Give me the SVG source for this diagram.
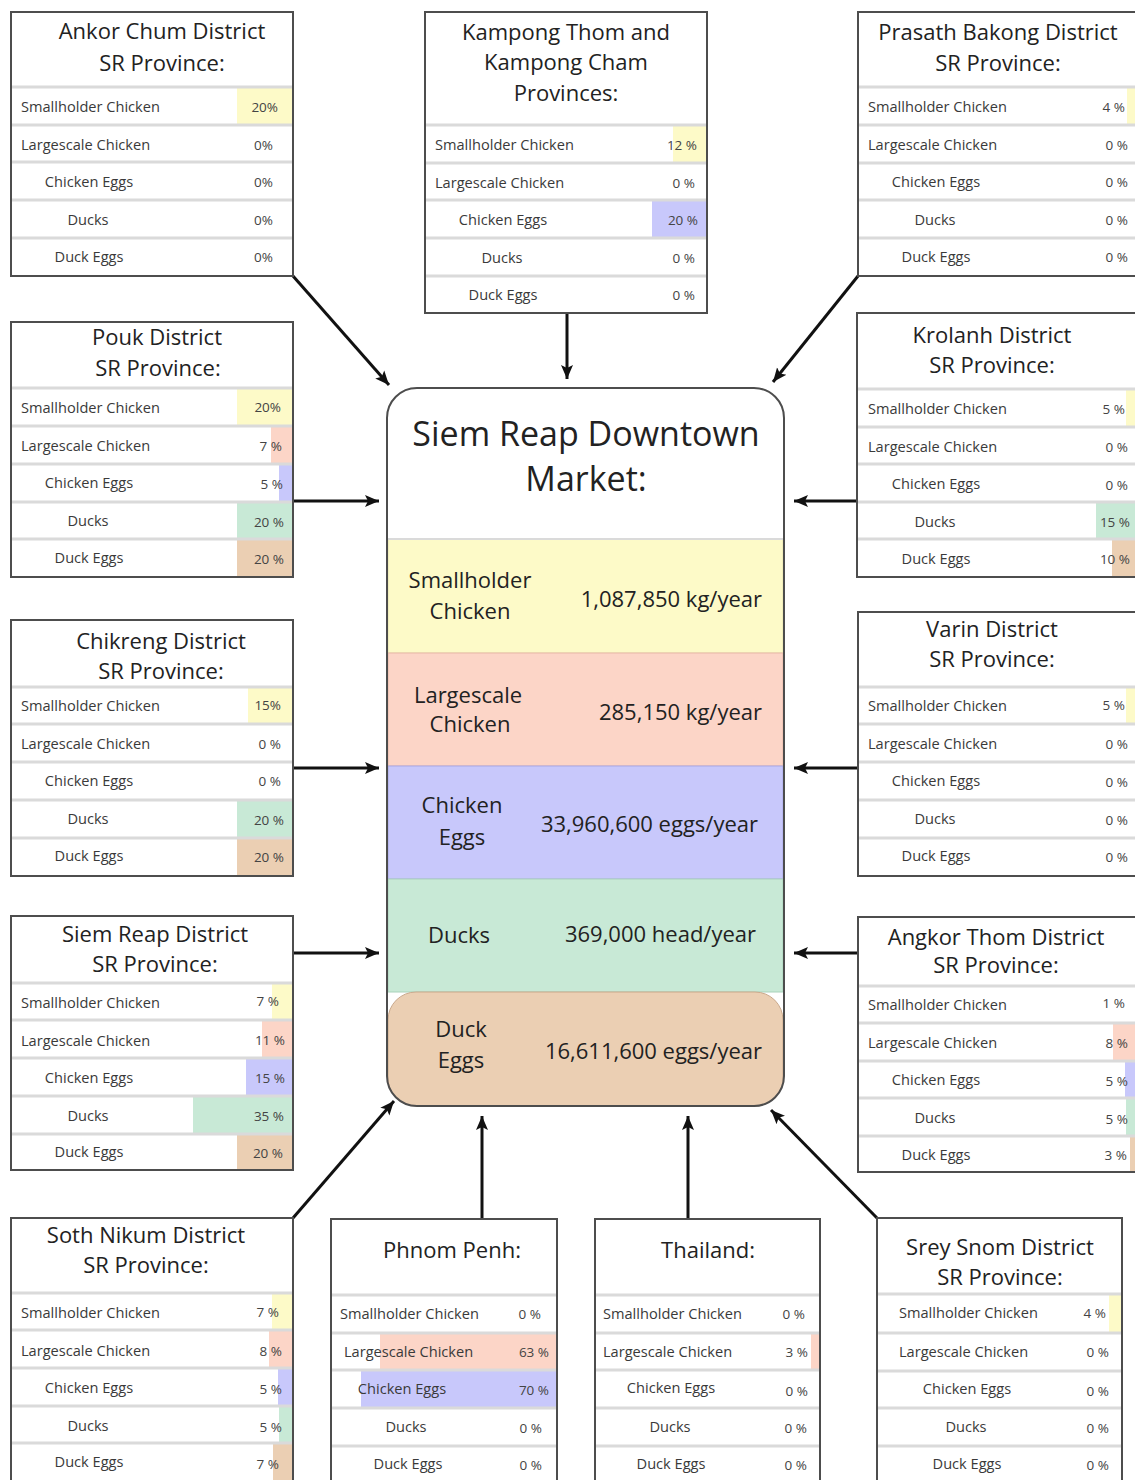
<svg xmlns="http://www.w3.org/2000/svg" width="1135" height="1480" viewBox="0 0 1135 1480">
<defs>
<marker id="ah" markerUnits="userSpaceOnUse" markerWidth="16" markerHeight="14" refX="14" refY="7" orient="auto">
<path d="M0,1 L14,7 L0,13 L3,7 z" fill="#111"/>
</marker>
<style>
.box{fill:#fff;stroke:#4d4d4d;stroke-width:2}
.sep{stroke:#dadada;stroke-width:3}
text{font-family:"Open Sans","Noto Sans","DejaVu Sans",sans-serif}
.t{font-size:22px;fill:#222;text-anchor:middle}
.l{font-size:14.6px;fill:#3a3a3a}
.m{text-anchor:middle}
.p{font-size:13.5px;fill:#444;text-anchor:end}
.y{fill:#fdfac8}.r{fill:#fcd5c7}.b{fill:#c8c8fb}.g{fill:#c8e9d6}.d{fill:#ebcfb3}
.mt{font-size:34px;fill:#222;text-anchor:middle}
.ml{font-size:22px;fill:#222;text-anchor:middle}
.mv{font-size:22px;fill:#222;text-anchor:end}
.c{stroke:#111;stroke-width:3;fill:none;marker-end:url(#ah)}
</style>
</defs>
<rect width="1135" height="1480" fill="#fff"/>

<g id="connectors">
<line class="c" x1="293" y1="276" x2="389" y2="385"/>
<line class="c" x1="567" y1="314" x2="567" y2="379"/>
<line class="c" x1="858" y1="276" x2="773" y2="382"/>
<line class="c" x1="293" y1="501" x2="379" y2="501"/>
<line class="c" x1="858" y1="501" x2="794" y2="501"/>
<line class="c" x1="293" y1="768" x2="379" y2="768"/>
<line class="c" x1="858" y1="768" x2="794" y2="768"/>
<line class="c" x1="293" y1="953" x2="379" y2="953"/>
<line class="c" x1="858" y1="953" x2="794" y2="953"/>
<line class="c" x1="293" y1="1218" x2="394" y2="1101"/>
<line class="c" x1="482" y1="1218" x2="482" y2="1116"/>
<line class="c" x1="688" y1="1218" x2="688" y2="1116"/>
<line class="c" x1="877" y1="1218" x2="771" y2="1110"/>
</g>

<g id="market">
<rect x="387" y="388" width="397" height="718" rx="30" fill="#fff"/>
<rect x="388" y="539" width="395" height="114" fill="#fdfac8" stroke="#e6e2b0" stroke-width="1"/>
<rect x="388" y="653" width="395" height="113" fill="#fcd5c7" stroke="#e8b8a8" stroke-width="1"/>
<rect x="388" y="766" width="395" height="113" fill="#c8c8fb" stroke="#a8a8e6" stroke-width="1"/>
<rect x="388" y="879" width="395" height="113" fill="#c8e9d6" stroke="#a9d2bb" stroke-width="1"/>
<rect x="388" y="992" width="395" height="114" rx="28" fill="#ebcfb3" stroke="#caa98c" stroke-width="1"/>
<line x1="388" y1="539" x2="783" y2="539" stroke="#dadada" stroke-width="2"/>
<rect x="387" y="388" width="397" height="718" rx="30" fill="none" stroke="#4d4d4d" stroke-width="2"/>
<text class="mt" x="586" y="446">Siem Reap Downtown</text>
<text class="mt" x="586" y="491">Market:</text>
<text class="ml" x="470" y="588">Smallholder</text>
<text class="ml" x="470" y="619">Chicken</text>
<text class="mv" x="762" y="607">1,087,850 kg/year</text>
<text class="ml" x="468" y="703">Largescale</text>
<text class="ml" x="470" y="732">Chicken</text>
<text class="mv" x="762" y="720">285,150 kg/year</text>
<text class="ml" x="462" y="813">Chicken</text>
<text class="ml" x="462" y="845">Eggs</text>
<text class="mv" x="758" y="832">33,960,600 eggs/year</text>
<text class="ml" x="459" y="943">Ducks</text>
<text class="mv" x="756" y="942">369,000 head/year</text>
<text class="ml" x="461" y="1037">Duck</text>
<text class="ml" x="461" y="1068">Eggs</text>
<text class="mv" x="762" y="1059">16,611,600 eggs/year</text>
</g>

<g id="ankor-chum">
<rect class="box" x="11" y="12" width="282" height="264"/>
<rect class="y" x="237" y="87" width="55" height="38"/>
<line class="sep" x1="12" y1="87" x2="292" y2="87"/><line class="sep" x1="12" y1="125" x2="292" y2="125"/><line class="sep" x1="12" y1="162" x2="292" y2="162"/><line class="sep" x1="12" y1="200" x2="292" y2="200"/><line class="sep" x1="12" y1="238" x2="292" y2="238"/>
<text class="t" x="162" y="39">Ankor Chum District</text>
<text class="t" x="162" y="71">SR Province:</text>
<text class="l" x="21" y="112">Smallholder Chicken</text>
<text class="l" x="21" y="150">Largescale Chicken</text>
<text class="l m" x="89" y="187">Chicken Eggs</text>
<text class="l m" x="88" y="225">Ducks</text>
<text class="l m" x="89" y="262">Duck Eggs</text>
<text class="p" x="278" y="112">20%</text>
<text class="p" x="273" y="150">0%</text>
<text class="p" x="273" y="187">0%</text>
<text class="p" x="273" y="225">0%</text>
<text class="p" x="273" y="262">0%</text>
</g>

<g id="kampong">
<rect class="box" x="425" y="12" width="282" height="301"/>
<rect class="y" x="673" y="125" width="33" height="38"/>
<rect class="b" x="652" y="200" width="54" height="38"/>
<line class="sep" x1="426" y1="125" x2="706" y2="125"/><line class="sep" x1="426" y1="163" x2="706" y2="163"/><line class="sep" x1="426" y1="200" x2="706" y2="200"/><line class="sep" x1="426" y1="238" x2="706" y2="238"/><line class="sep" x1="426" y1="276" x2="706" y2="276"/>
<text class="t" x="566" y="40">Kampong Thom and</text>
<text class="t" x="566" y="70">Kampong Cham</text>
<text class="t" x="566" y="101">Provinces:</text>
<text class="l" x="435" y="150">Smallholder Chicken</text>
<text class="l" x="435" y="188">Largescale Chicken</text>
<text class="l m" x="503" y="225">Chicken Eggs</text>
<text class="l m" x="502" y="263">Ducks</text>
<text class="l m" x="503" y="300">Duck Eggs</text>
<text class="p" x="697" y="150">12 %</text>
<text class="p" x="695" y="188">0 %</text>
<text class="p" x="698" y="225">20 %</text>
<text class="p" x="695" y="263">0 %</text>
<text class="p" x="695" y="300">0 %</text>
</g>

<g id="prasath-bakong">
<rect class="box" x="858" y="12" width="282" height="264"/>
<rect class="y" x="1127" y="87" width="12" height="38"/>
<line class="sep" x1="859" y1="87" x2="1139" y2="87"/><line class="sep" x1="859" y1="125" x2="1139" y2="125"/><line class="sep" x1="859" y1="163" x2="1139" y2="163"/><line class="sep" x1="859" y1="200" x2="1139" y2="200"/><line class="sep" x1="859" y1="238" x2="1139" y2="238"/>
<text class="t" x="998" y="40">Prasath Bakong District</text>
<text class="t" x="998" y="71">SR Province:</text>
<text class="l" x="868" y="112">Smallholder Chicken</text>
<text class="l" x="868" y="150">Largescale Chicken</text>
<text class="l m" x="936" y="187">Chicken Eggs</text>
<text class="l m" x="935" y="225">Ducks</text>
<text class="l m" x="936" y="262">Duck Eggs</text>
<text class="p" x="1125" y="112">4 %</text>
<text class="p" x="1128" y="150">0 %</text>
<text class="p" x="1128" y="187">0 %</text>
<text class="p" x="1128" y="225">0 %</text>
<text class="p" x="1128" y="262">0 %</text>
</g>

<g id="pouk">
<rect class="box" x="11" y="322" width="282" height="255"/>
<rect class="y" x="237" y="388" width="55" height="38"/>
<rect class="r" x="271" y="426" width="21" height="38"/>
<rect class="b" x="279" y="464" width="13" height="38"/>
<rect class="g" x="237" y="502" width="55" height="37"/>
<rect class="d" x="237" y="539" width="55" height="37"/>
<line class="sep" x1="12" y1="388" x2="292" y2="388"/><line class="sep" x1="12" y1="426" x2="292" y2="426"/><line class="sep" x1="12" y1="464" x2="292" y2="464"/><line class="sep" x1="12" y1="502" x2="292" y2="502"/><line class="sep" x1="12" y1="539" x2="292" y2="539"/>
<text class="t" x="157" y="345">Pouk District</text>
<text class="t" x="158" y="376">SR Province:</text>
<text class="l" x="21" y="413">Smallholder Chicken</text>
<text class="l" x="21" y="451">Largescale Chicken</text>
<text class="l m" x="89" y="488">Chicken Eggs</text>
<text class="l m" x="88" y="526">Ducks</text>
<text class="l m" x="89" y="563">Duck Eggs</text>
<text class="p" x="281" y="412">20%</text>
<text class="p" x="282" y="451">7 %</text>
<text class="p" x="283" y="489">5 %</text>
<text class="p" x="284" y="527">20 %</text>
<text class="p" x="284" y="564">20 %</text>
</g>

<g id="krolanh">
<rect class="box" x="857" y="313" width="283" height="264"/>
<rect class="y" x="1126" y="389" width="13" height="38"/>
<rect class="g" x="1096" y="502" width="43" height="37"/>
<rect class="d" x="1112" y="539" width="27" height="37"/>
<line class="sep" x1="858" y1="389" x2="1139" y2="389"/><line class="sep" x1="858" y1="427" x2="1139" y2="427"/><line class="sep" x1="858" y1="464" x2="1139" y2="464"/><line class="sep" x1="858" y1="502" x2="1139" y2="502"/><line class="sep" x1="858" y1="539" x2="1139" y2="539"/>
<text class="t" x="992" y="343">Krolanh District</text>
<text class="t" x="992" y="373">SR Province:</text>
<text class="l" x="868" y="414">Smallholder Chicken</text>
<text class="l" x="868" y="452">Largescale Chicken</text>
<text class="l m" x="936" y="489">Chicken Eggs</text>
<text class="l m" x="935" y="527">Ducks</text>
<text class="l m" x="936" y="564">Duck Eggs</text>
<text class="p" x="1125" y="414">5 %</text>
<text class="p" x="1128" y="452">0 %</text>
<text class="p" x="1128" y="490">0 %</text>
<text class="p" x="1130" y="527">15 %</text>
<text class="p" x="1130" y="564">10 %</text>
</g>

<g id="chikreng">
<rect class="box" x="11" y="620" width="282" height="256"/>
<rect class="y" x="248" y="687" width="44" height="37"/>
<rect class="g" x="237" y="800" width="55" height="38"/>
<rect class="d" x="237" y="838" width="55" height="37"/>
<line class="sep" x1="12" y1="687" x2="292" y2="687"/><line class="sep" x1="12" y1="724" x2="292" y2="724"/><line class="sep" x1="12" y1="762" x2="292" y2="762"/><line class="sep" x1="12" y1="800" x2="292" y2="800"/><line class="sep" x1="12" y1="838" x2="292" y2="838"/>
<text class="t" x="161" y="649">Chikreng District</text>
<text class="t" x="161" y="679">SR Province:</text>
<text class="l" x="21" y="711">Smallholder Chicken</text>
<text class="l" x="21" y="749">Largescale Chicken</text>
<text class="l m" x="89" y="786">Chicken Eggs</text>
<text class="l m" x="88" y="824">Ducks</text>
<text class="l m" x="89" y="861">Duck Eggs</text>
<text class="p" x="281" y="710">15%</text>
<text class="p" x="281" y="749">0 %</text>
<text class="p" x="281" y="786">0 %</text>
<text class="p" x="284" y="825">20 %</text>
<text class="p" x="284" y="862">20 %</text>
</g>

<g id="varin">
<rect class="box" x="858" y="612" width="282" height="264"/>
<rect class="y" x="1126" y="687" width="13" height="37"/>
<line class="sep" x1="859" y1="687" x2="1139" y2="687"/><line class="sep" x1="859" y1="724" x2="1139" y2="724"/><line class="sep" x1="859" y1="762" x2="1139" y2="762"/><line class="sep" x1="859" y1="800" x2="1139" y2="800"/><line class="sep" x1="859" y1="838" x2="1139" y2="838"/>
<text class="t" x="992" y="637">Varin District</text>
<text class="t" x="992" y="667">SR Province:</text>
<text class="l" x="868" y="711">Smallholder Chicken</text>
<text class="l" x="868" y="749">Largescale Chicken</text>
<text class="l m" x="936" y="786">Chicken Eggs</text>
<text class="l m" x="935" y="824">Ducks</text>
<text class="l m" x="936" y="861">Duck Eggs</text>
<text class="p" x="1125" y="710">5 %</text>
<text class="p" x="1128" y="749">0 %</text>
<text class="p" x="1128" y="787">0 %</text>
<text class="p" x="1128" y="825">0 %</text>
<text class="p" x="1128" y="862">0 %</text>
</g>

<g id="siem-reap-district">
<rect class="box" x="11" y="916" width="282" height="254"/>
<rect class="y" x="272" y="983" width="20" height="37"/>
<rect class="r" x="262" y="1020" width="30" height="38"/>
<rect class="b" x="246" y="1058" width="46" height="38"/>
<rect class="g" x="193" y="1096" width="99" height="38"/>
<rect class="d" x="237" y="1134" width="55" height="35"/>
<line class="sep" x1="12" y1="983" x2="292" y2="983"/><line class="sep" x1="12" y1="1020" x2="292" y2="1020"/><line class="sep" x1="12" y1="1058" x2="292" y2="1058"/><line class="sep" x1="12" y1="1096" x2="292" y2="1096"/><line class="sep" x1="12" y1="1134" x2="292" y2="1134"/>
<text class="t" x="155" y="942">Siem Reap District</text>
<text class="t" x="155" y="972">SR Province:</text>
<text class="l" x="21" y="1008">Smallholder Chicken</text>
<text class="l" x="21" y="1046">Largescale Chicken</text>
<text class="l m" x="89" y="1083">Chicken Eggs</text>
<text class="l m" x="88" y="1121">Ducks</text>
<text class="l m" x="89" y="1157">Duck Eggs</text>
<text class="p" x="279" y="1006">7 %</text>
<text class="p" x="285" y="1045">11 %</text>
<text class="p" x="285" y="1083">15 %</text>
<text class="p" x="284" y="1121">35 %</text>
<text class="p" x="283" y="1158">20 %</text>
</g>

<g id="angkor-thom">
<rect class="box" x="858" y="917" width="282" height="255"/>
<rect class="y" x="1136" y="986" width="3" height="37"/>
<rect class="r" x="1113" y="1023" width="26" height="38"/>
<rect class="b" x="1125" y="1061" width="14" height="37"/>
<rect class="g" x="1126" y="1098" width="13" height="38"/>
<rect class="d" x="1130" y="1136" width="9" height="35"/>
<line class="sep" x1="859" y1="986" x2="1139" y2="986"/><line class="sep" x1="859" y1="1023" x2="1139" y2="1023"/><line class="sep" x1="859" y1="1061" x2="1139" y2="1061"/><line class="sep" x1="859" y1="1098" x2="1139" y2="1098"/><line class="sep" x1="859" y1="1136" x2="1139" y2="1136"/>
<text class="t" x="996" y="945">Angkor Thom District</text>
<text class="t" x="996" y="973">SR Province:</text>
<text class="l" x="868" y="1010">Smallholder Chicken</text>
<text class="l" x="868" y="1048">Largescale Chicken</text>
<text class="l m" x="936" y="1085">Chicken Eggs</text>
<text class="l m" x="935" y="1123">Ducks</text>
<text class="l m" x="936" y="1160">Duck Eggs</text>
<text class="p" x="1125" y="1008">1 %</text>
<text class="p" x="1128" y="1048">8 %</text>
<text class="p" x="1128" y="1086">5 %</text>
<text class="p" x="1128" y="1124">5 %</text>
<text class="p" x="1127" y="1160">3 %</text>
</g>

<g id="soth-nikum">
<rect class="box" x="11" y="1218" width="282" height="272"/>
<rect class="y" x="272" y="1293" width="20" height="37"/>
<rect class="r" x="269" y="1330" width="23" height="38"/>
<rect class="b" x="278" y="1368" width="14" height="38"/>
<rect class="g" x="279" y="1406" width="13" height="37"/>
<rect class="d" x="273" y="1443" width="19" height="40"/>
<line class="sep" x1="12" y1="1293" x2="292" y2="1293"/><line class="sep" x1="12" y1="1330" x2="292" y2="1330"/><line class="sep" x1="12" y1="1368" x2="292" y2="1368"/><line class="sep" x1="12" y1="1406" x2="292" y2="1406"/><line class="sep" x1="12" y1="1443" x2="292" y2="1443"/>
<text class="t" x="146" y="1243">Soth Nikum District</text>
<text class="t" x="146" y="1273">SR Province:</text>
<text class="l" x="21" y="1318">Smallholder Chicken</text>
<text class="l" x="21" y="1356">Largescale Chicken</text>
<text class="l m" x="89" y="1393">Chicken Eggs</text>
<text class="l m" x="88" y="1431">Ducks</text>
<text class="l m" x="89" y="1467">Duck Eggs</text>
<text class="p" x="279" y="1317">7 %</text>
<text class="p" x="282" y="1356">8 %</text>
<text class="p" x="282" y="1394">5 %</text>
<text class="p" x="282" y="1432">5 %</text>
<text class="p" x="279" y="1469">7 %</text>
</g>

<g id="phnom-penh">
<rect class="box" x="331" y="1219" width="226" height="271"/>
<rect class="r" x="380" y="1333" width="176" height="37"/>
<rect class="b" x="361" y="1370" width="195" height="38"/>
<line class="sep" x1="332" y1="1295" x2="556" y2="1295"/><line class="sep" x1="332" y1="1333" x2="556" y2="1333"/><line class="sep" x1="332" y1="1370" x2="556" y2="1370"/><line class="sep" x1="332" y1="1408" x2="556" y2="1408"/><line class="sep" x1="332" y1="1446" x2="556" y2="1446"/>
<text class="t" x="452" y="1258">Phnom Penh:</text>
<text class="l" x="340" y="1319">Smallholder Chicken</text>
<text class="l" x="344" y="1357">Largescale Chicken</text>
<text class="l m" x="402" y="1394">Chicken Eggs</text>
<text class="l m" x="406" y="1432">Ducks</text>
<text class="l m" x="408" y="1469">Duck Eggs</text>
<text class="p" x="541" y="1319">0 %</text>
<text class="p" x="549" y="1357">63 %</text>
<text class="p" x="549" y="1395">70 %</text>
<text class="p" x="542" y="1433">0 %</text>
<text class="p" x="542" y="1470">0 %</text>
</g>

<g id="thailand">
<rect class="box" x="595" y="1219" width="225" height="271"/>
<rect class="r" x="811" y="1333" width="8" height="37"/>
<line class="sep" x1="596" y1="1295" x2="819" y2="1295"/><line class="sep" x1="596" y1="1333" x2="819" y2="1333"/><line class="sep" x1="596" y1="1370" x2="819" y2="1370"/><line class="sep" x1="596" y1="1408" x2="819" y2="1408"/><line class="sep" x1="596" y1="1446" x2="819" y2="1446"/>
<text class="t" x="708" y="1258">Thailand:</text>
<text class="l" x="603" y="1319">Smallholder Chicken</text>
<text class="l" x="603" y="1357">Largescale Chicken</text>
<text class="l m" x="671" y="1393">Chicken Eggs</text>
<text class="l m" x="670" y="1432">Ducks</text>
<text class="l m" x="671" y="1469">Duck Eggs</text>
<text class="p" x="805" y="1319">0 %</text>
<text class="p" x="808" y="1357">3 %</text>
<text class="p" x="808" y="1396">0 %</text>
<text class="p" x="807" y="1433">0 %</text>
<text class="p" x="807" y="1470">0 %</text>
</g>

<g id="srey-snom">
<rect class="box" x="877" y="1218" width="245" height="272"/>
<rect class="y" x="1109" y="1294" width="12" height="39"/>
<line class="sep" x1="878" y1="1294" x2="1121" y2="1294"/><line class="sep" x1="878" y1="1333" x2="1121" y2="1333"/><line class="sep" x1="878" y1="1371" x2="1121" y2="1371"/><line class="sep" x1="878" y1="1408" x2="1121" y2="1408"/><line class="sep" x1="878" y1="1446" x2="1121" y2="1446"/>
<text class="t" x="1000" y="1255">Srey Snom District</text>
<text class="t" x="1000" y="1285">SR Province:</text>
<text class="l" x="899" y="1318">Smallholder Chicken</text>
<text class="l" x="899" y="1357">Largescale Chicken</text>
<text class="l m" x="967" y="1394">Chicken Eggs</text>
<text class="l m" x="966" y="1432">Ducks</text>
<text class="l m" x="967" y="1469">Duck Eggs</text>
<text class="p" x="1106" y="1318">4 %</text>
<text class="p" x="1109" y="1357">0 %</text>
<text class="p" x="1109" y="1396">0 %</text>
<text class="p" x="1109" y="1433">0 %</text>
<text class="p" x="1109" y="1470">0 %</text>
</g>
</svg>
